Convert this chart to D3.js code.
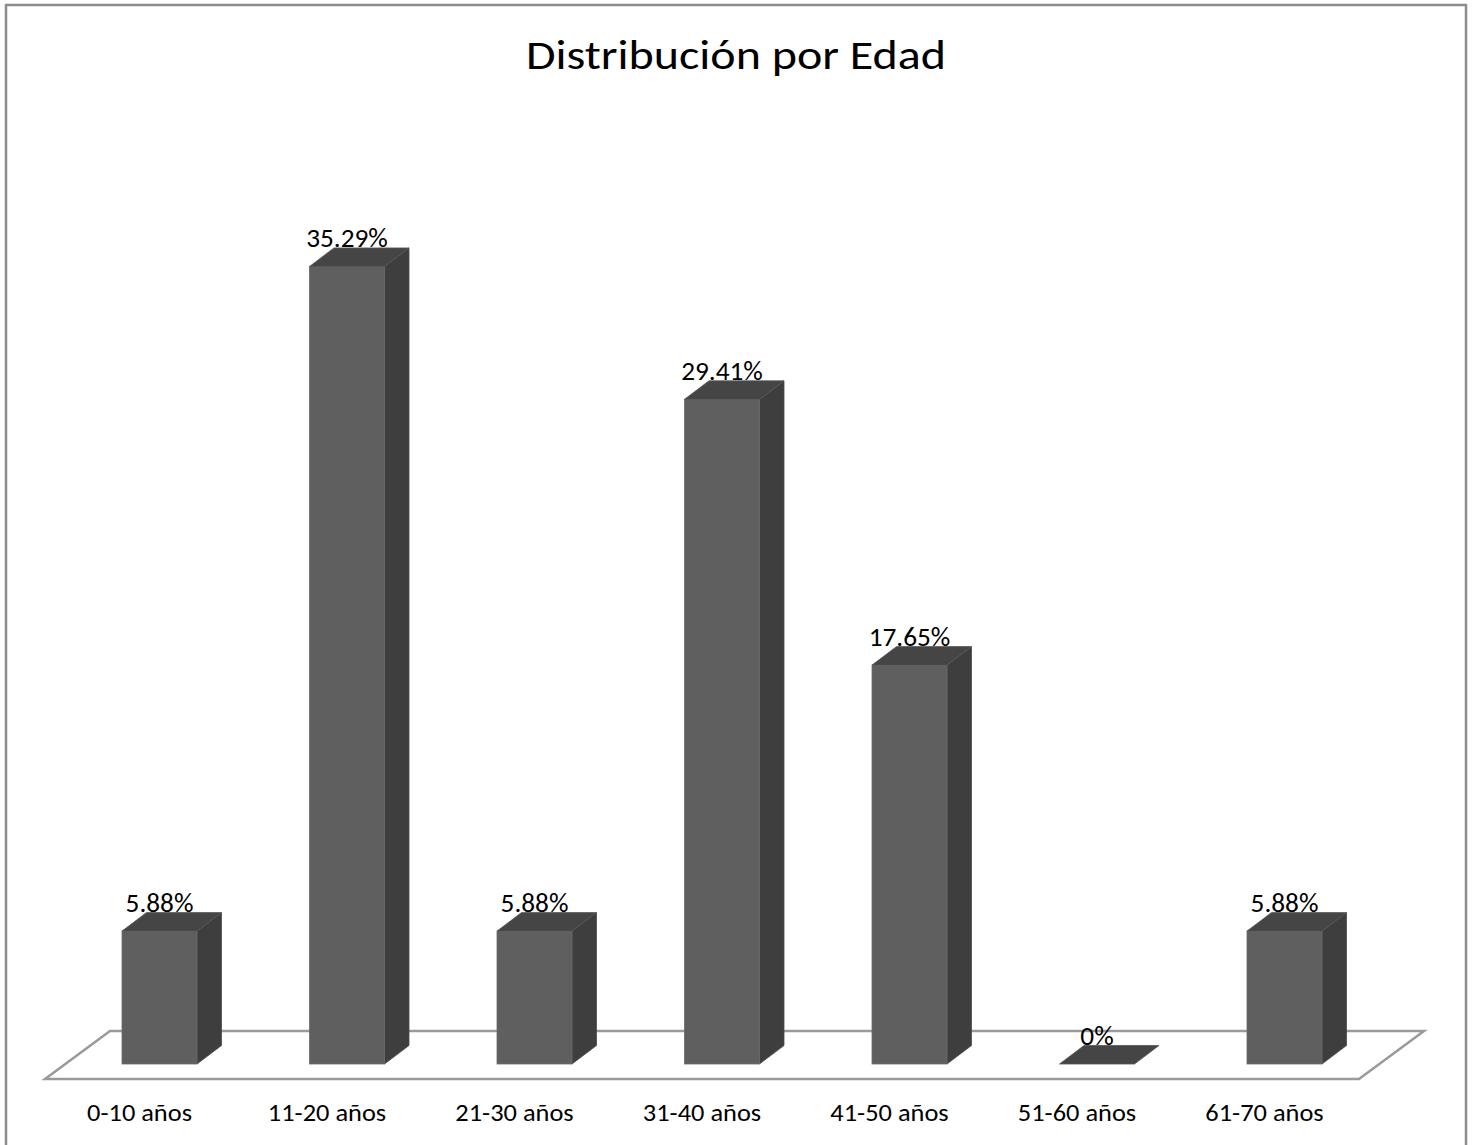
<!DOCTYPE html>
<html>
<head>
<meta charset="utf-8">
<script src="https://cdn.jsdelivr.net/npm/d3@7"></script>
<style>
  html, body { margin: 0; padding: 0; background: #fff; }
  svg { display: block; }
  text { font-family: Calibri, Carlito, "Open Sans", Lato, sans-serif; fill: #000; }
</style>
</head>
<body>
<svg id="chart" width="1473" height="1145"></svg>
<script>
// Age groups and their share of the total (%)
const categories = ["0-10 años", "11-20 años", "21-30 años", "31-40 años", "41-50 años", "51-60 años", "61-70 años"];
const percentages = [5.88, 35.29, 5.88, 29.41, 17.65, 0, 5.88];
const valueLabels = ["5.88%", "35.29%", "5.88%", "29.41%", "17.65%", "0%", "5.88%"];
const chartTitle = "Distribución por Edad";

const W = 1473, H = 1145;
const svg = d3.select("#chart");

// Outer frame
svg.append("rect")
  .attr("x", 6).attr("y", 5)
  .attr("width", 1460).attr("height", H + 10)
  .attr("fill", "#fff")
  .attr("stroke", "#8c8c8c")
  .attr("stroke-width", 2.5);

// Title (slightly widened lettering)
svg.append("text")
  .attr("transform", "translate(736,69) scale(1.2,1)")
  .attr("text-anchor", "middle")
  .style("font-size", "40px")
  .text(chartTitle);

// Scales
const x = d3.scaleBand()
  .domain(categories)
  .range([65.75, 1378.25])
  .paddingInner(0.6)
  .paddingOuter(0.3);

const y = d3.scaleLinear()
  .domain([0, 40])
  .range([1064, 1064 - 40 * 22.6]);

// 3D projection offsets for bars and for the floor
const bd = { dx: 24.5, dy: -18.5 };
const fd = { dx: 65, dy: -48 };

// Floor plane
const floorFrontY = y(0) + 15;
const floorLeft = 45, floorRight = 1359;
svg.append("path")
  .attr("d", `M${floorLeft},${floorFrontY} L${floorRight},${floorFrontY} L${floorRight + fd.dx},${floorFrontY + fd.dy} L${floorLeft + fd.dx},${floorFrontY + fd.dy} Z`)
  .attr("fill", "#fff")
  .attr("stroke", "#9a9a9a")
  .attr("stroke-width", 2.5)
  .attr("stroke-linejoin", "miter");

// Bars
const bars = svg.append("g").selectAll("g")
  .data(categories.map((c, i) => ({ c, v: percentages[i], label: valueLabels[i] })))
  .join("g");

bars.each(function (d) {
  const g = d3.select(this);
  const x0 = x(d.c), x1 = x0 + x.bandwidth();
  const yt = y(d.v), yb = y(0);
  if (d.v > 0) {
    // side face
    g.append("path")
      .attr("d", `M${x1},${yb} L${x1 + bd.dx},${yb + bd.dy} L${x1 + bd.dx},${yt + bd.dy} L${x1},${yt} Z`)
      .attr("fill", "#3e3e3e")
      .attr("stroke", "#4a4a4a").attr("stroke-width", 0.8);
    // front face
    g.append("rect")
      .attr("x", x0).attr("y", yt)
      .attr("width", x.bandwidth()).attr("height", yb - yt)
      .attr("fill", "#5f5f5f")
      .attr("stroke", "#6a6a6a").attr("stroke-width", 0.8);
  }
  // top face
  g.append("path")
    .attr("d", `M${x0},${yt} L${x1},${yt} L${x1 + bd.dx},${yt + bd.dy} L${x0 + bd.dx},${yt + bd.dy} Z`)
    .attr("fill", "#454545")
    .attr("stroke", "#555").attr("stroke-width", 0.8);
  // value label
  g.append("text")
    .attr("transform", `translate(${x0 + x.bandwidth() / 2},${yt + bd.dy - 1}) scale(1.05,1)`)
    .attr("text-anchor", "middle")
    .style("font-size", "26px")
    .text(d.label);
});

// Category labels along the front of the floor
svg.append("g").selectAll("text")
  .data(categories)
  .join("text")
  .attr("transform", d => `translate(${x(d) + x.bandwidth() / 2 - 20},1121) scale(1.1,1)`)
  .attr("text-anchor", "middle")
  .style("font-size", "24px")
  .text(d => d);
</script>
</body>
</html>
